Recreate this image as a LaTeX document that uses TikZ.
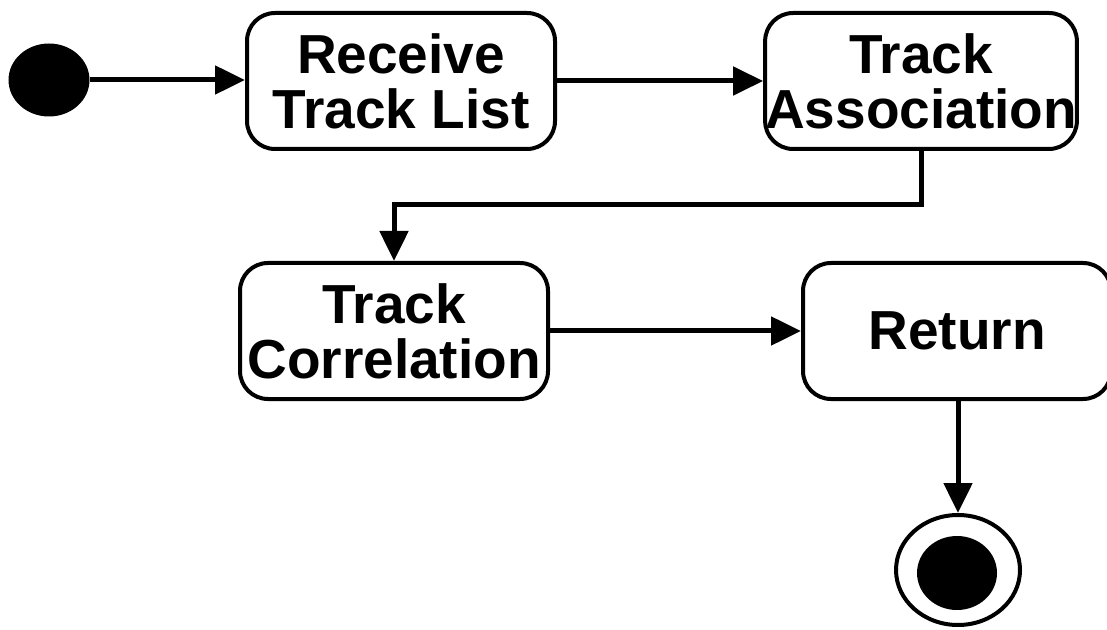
\documentclass[tikz,border=0pt]{standalone}
\usepackage{fontspec}
\setmainfont{Liberation Sans}
\usetikzlibrary{arrows.meta,shapes.geometric}
\begin{document}
\begin{tikzpicture}[x=0.5pt,y=-0.5pt,
    act/.style={draw,line width=2pt,rounded corners=14pt,minimum width=154pt,minimum height=68pt,
      inner sep=0pt,align=center,font=\fontsize{27.5pt}{27.5pt}\selectfont\bfseries},
    flow/.style={line width=2.5pt,-{Triangle[length=15pt,width=14pt]}}]
  \useasboundingbox (0,0) rectangle (1107,630);
  \node[ellipse,fill,minimum width=40.5pt,minimum height=36.5pt,inner sep=0pt] (start) at (49,80) {};
  \node[act] (recv) at (401,81) {Receive\\Track List};
  \node[act] (assoc) at (921,81) {Track\\Association};
  \node[act] (corr) at (394,331) {Track\\Correlation};
  \node[act] (ret) at (957,331) {Return};
  \node[ellipse,draw,line width=2pt,minimum width=62pt,minimum height=55pt,inner sep=0pt] (stop) at (958,570) {};
  \node[ellipse,fill,minimum width=40pt,minimum height=37pt,inner sep=0pt] (stopdot) at (957,573) {};
  \coordinate (bend) at (0,205);
  \draw[flow] (start) -- (start -| recv.west);
  \draw[flow] (recv) -- (assoc);
  \draw[flow] (assoc.south) -- (assoc.south |- bend) -| (corr.north);
  \draw[flow] (corr) -- (ret);
  \draw[flow] (ret.south -| stop.north) -- (stop.north);
\end{tikzpicture}
\end{document}
